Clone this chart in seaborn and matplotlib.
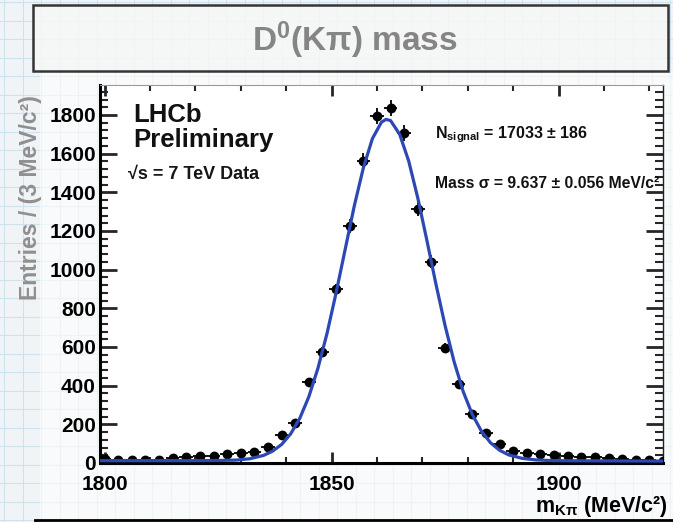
import numpy as np
import matplotlib
matplotlib.use("Agg")
import matplotlib.pyplot as plt
from matplotlib.patches import Rectangle
import seaborn as sns

# ---------------- data ----------------
mass_bins = [1800, 1803, 1806, 1809, 1812, 1815, 1818, 1821, 1824,
             1827, 1830, 1833, 1836, 1839, 1842, 1845, 1848, 1851,
             1854, 1857, 1860, 1863, 1866, 1869, 1872, 1875, 1878,
             1881, 1884, 1887, 1890, 1893, 1896, 1899, 1902, 1905,
             1908, 1911, 1914, 1917, 1920, 1923]
entries = [20, 18, 18, 18, 18, 28, 29, 34, 36,
           48, 52, 57, 85, 143, 205, 421, 576, 898,
           1226, 1564, 1795, 1835, 1705, 1314, 1041, 597, 409,
           253, 153, 98, 64, 50, 45, 40, 36, 32,
           30, 26, 22, 16, 14, 12]

fit_mass = [1799, 1809, 1819, 1825, 1829, 1832, 1835, 1837, 1839, 1841, 1843, 1845,
            1847, 1849, 1851, 1853, 1855, 1857, 1859, 1861, 1862, 1863, 1865, 1867,
            1869, 1871, 1873, 1875, 1877, 1879, 1881, 1883, 1885, 1887, 1889, 1892,
            1895, 1899, 1909, 1923]
fit_entries = [12, 12, 12, 13, 15, 22, 39, 61, 96, 151, 231, 343,
               490, 670, 880, 1105, 1329, 1526, 1678, 1763, 1777, 1771, 1700, 1561,
               1370, 1151, 924, 711, 523, 369, 251, 165, 105, 66, 42, 24,
               16, 12, 11, 10]

x_ticks = [1800, 1850, 1900]
y_ticks = [0, 200, 400, 600, 800, 1000, 1200, 1400, 1600, 1800]

title_text = r"D$^{0}$(Kπ) mass"
ylabel_text = "Entries / (3 MeV/c²)"
xlabel_text = r"m$_{K\pi}$ (MeV/c²)"
lhcb_text = "LHCb"
prelim_text = "Preliminary"
sqrt_text = "√s = 7 TeV Data"
nsig_text = r"N$_{signal}$ = 17033 ± 186"
sigma_text = "Mass σ = 9.637 ± 0.056 MeV/c²"

# ---------------- style ----------------
sns.set_theme(style="white")
plt.rcParams["font.family"] = ["Liberation Sans", "DejaVu Sans"]
plt.rcParams["mathtext.fontset"] = "custom"
plt.rcParams["mathtext.rm"] = "Liberation Sans:bold"
plt.rcParams["mathtext.it"] = "Liberation Sans:bold:italic"
plt.rcParams["mathtext.bf"] = "Liberation Sans:bold"
plt.rcParams["mathtext.default"] = "rm"

W, H = 673, 522
fig = plt.figure(figsize=(W / 100, H / 100), dpi=100)
fig.patch.set_facecolor("#f1f4f6")

# background "graph paper" layer in pixel coordinates (below the plot)
bg = fig.add_axes([0, 0, 1, 1])
bg.set_xlim(0, W)
bg.set_ylim(H, 0)
bg.axis("off")
bg.set_zorder(0)
for gx in np.arange(4, W, 18.5):
    bg.axvline(gx, color="#cfe2ec", lw=0.8, zorder=0)
for gy in np.arange(2, H, 18.5):
    bg.axhline(gy, color="#cfe2ec", lw=0.8, zorder=0)

# title box
bg.add_patch(Rectangle((33, 5), 635, 66, facecolor="#f6f7f7", alpha=0.88,
                       edgecolor="#1a1a1a", lw=1.8, zorder=2))
bg.text(355, 40, title_text, ha="center", va="center", fontsize=24,
        fontweight="bold", color="#858585", zorder=3)

# plot image backdrop
bg.add_patch(Rectangle((40, 73), 633, 446, facecolor="white", alpha=0.6,
                       edgecolor="none", zorder=1))

# y label (faded gray)
bg.text(31, 198, ylabel_text, rotation=90, ha="center", va="center",
        fontsize=16.5, fontweight="bold", color="#8f8f8f", zorder=3)

# ---------------- main axes ----------------
left, right, top, bottom = 100, 663, 85, 463
ax = fig.add_axes([left / W, 1 - bottom / H, (right - left) / W, (bottom - top) / H])
ax.set_zorder(2)
ax.set_facecolor("white")

ax.errorbar(mass_bins, entries, xerr=1.5, yerr=np.sqrt(entries), fmt="none",
            ecolor="black", elinewidth=1.3, capsize=0, zorder=3)
sns.scatterplot(x=mass_bins, y=entries, ax=ax, color="black", s=50,
                edgecolor="black", linewidth=0, zorder=4)
sns.lineplot(x=fit_mass, y=fit_entries, ax=ax, color="#2c48b4", lw=2.3,
             zorder=5, sort=True, estimator=None)

ax.set_xlim(1799, 1923)
ax.set_ylim(0, 1955)
ax.set_xticks(x_ticks)
ax.set_xticks(np.arange(1800, 1921, 10), minor=True)
ax.set_yticks(y_ticks)
ax.set_yticks(np.arange(0, 1955, 40), minor=True)
ax.set_xticklabels([str(t) for t in x_ticks])
ax.set_yticklabels([str(t) for t in y_ticks])
ax.set_xlabel("")
ax.set_ylabel("")

for side in ["left", "bottom"]:
    ax.spines[side].set_linewidth(2.2)
    ax.spines[side].set_color("black")
ax.spines["right"].set_linewidth(1.0)
ax.spines["right"].set_color("#222222")
ax.spines["top"].set_linewidth(0.8)
ax.spines["top"].set_color("#9a9a9a")

ax.tick_params(axis="y", which="major", direction="in", length=12, width=2.0,
               left=True, right=True, labelsize=15, pad=3)
ax.tick_params(axis="y", which="minor", direction="in", length=6, width=1.5,
               left=True, right=True)
ax.tick_params(axis="x", which="major", direction="in", length=8, width=2.0,
               bottom=True, top=True, labelsize=15, pad=9)
ax.tick_params(axis="x", which="minor", direction="in", length=4, width=1.5,
               bottom=True, top=True)
for lab in ax.get_xticklabels() + ax.get_yticklabels():
    lab.set_fontweight("bold")
    lab.set_color("black")

# foreground overlay for annotations (above the plot)
fg = fig.add_axes([0, 0, 1, 1])
fg.set_xlim(0, W)
fg.set_ylim(H, 0)
fg.axis("off")
fg.set_zorder(3)
fg.patch.set_visible(False)

fg.text(133, 122, lhcb_text, fontsize=18.5, fontweight="bold", color="#111111",
        ha="left", va="baseline")
fg.text(133, 147, prelim_text, fontsize=18.5, fontweight="bold", color="#111111",
        ha="left", va="baseline")
fg.text(128, 179, sqrt_text, fontsize=13, fontweight="bold", color="#151515",
        ha="left", va="baseline")
fg.text(435, 138, nsig_text, fontsize=11.5, fontweight="bold", color="#111111",
        ha="left", va="baseline")
fg.text(435, 188, sigma_text, fontsize=11.3, fontweight="bold", color="#111111",
        ha="left", va="baseline")

# x label just above the box below
fg.text(668, 512, xlabel_text, ha="right", va="baseline", fontsize=15.5,
        fontweight="bold", color="black", zorder=6)
fg.add_patch(Rectangle((35, 519.5), 650, 20, facecolor="#f4f6f7",
                       edgecolor="black", lw=2.0, zorder=7))

fig.savefig("out.png", dpi=100)
